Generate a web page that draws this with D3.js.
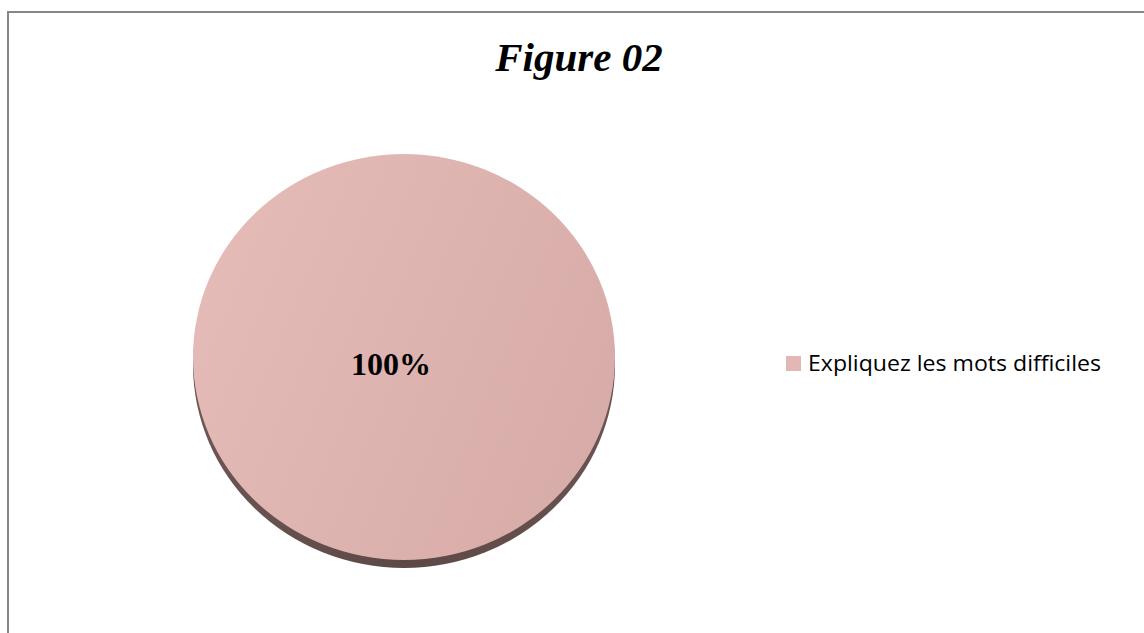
<!DOCTYPE html>
<html>
<head>
<meta charset="utf-8">
<script src="https://d3js.org/d3.v7.min.js"></script>
<style>
  html, body { margin: 0; padding: 0; background: #ffffff; }
  svg { display: block; }
</style>
</head>
<body>
<div id="chart"></div>
<script>
// ---- data ----
const title = "Figure 02";
const categories = ["Expliquez les mots difficiles"];
const values = [100];
const labels = ["100%"];

// ---- layout ----
const W = 1144, H = 633;
const cx = 404, cy = 357, rx = 211, ry = 203, depth = 8;

const svg = d3.select("#chart").append("svg")
  .attr("width", W).attr("height", H);

const defs = svg.append("defs");
const gFace = defs.append("linearGradient").attr("id", "faceGrad")
  .attr("x1", "0%").attr("y1", "30%").attr("x2", "100%").attr("y2", "70%");
gFace.append("stop").attr("offset", "0%").attr("stop-color", "#e5bbb8");
gFace.append("stop").attr("offset", "100%").attr("stop-color", "#d6aba8");

const gSide = defs.append("linearGradient").attr("id", "sideGrad")
  .attr("x1", "0%").attr("y1", "0%").attr("x2", "100%").attr("y2", "0%");
gSide.append("stop").attr("offset", "0%").attr("stop-color", "#6d5654");
gSide.append("stop").attr("offset", "50%").attr("stop-color", "#5c4846");
gSide.append("stop").attr("offset", "100%").attr("stop-color", "#6a5351");

// chart border (right and bottom edges extend beyond the view)
svg.append("rect")
  .attr("x", 8).attr("y", 12)
  .attr("width", W + 20).attr("height", H + 20)
  .attr("fill", "#ffffff")
  .attr("stroke", "#878787").attr("stroke-width", 2);

// title
svg.append("text")
  .attr("x", 579).attr("y", 71)
  .attr("text-anchor", "middle")
  .attr("font-family", "'Liberation Serif', 'Times New Roman', serif")
  .attr("font-weight", "bold").attr("font-style", "italic")
  .attr("font-size", 41)
  .attr("fill", "#000")
  .text(title);

// pie
const pie = d3.pie().sort(null).value(d => d);
const arcs = pie(values);
const arc = d3.arc().innerRadius(0).outerRadius(rx);

const sideG = svg.append("g")
  .attr("transform", `translate(${cx},${cy + depth}) scale(1,${ry / rx})`);
sideG.selectAll("path").data(arcs).join("path")
  .attr("d", arc).attr("fill", "url(#sideGrad)");

const faceG = svg.append("g")
  .attr("transform", `translate(${cx},${cy}) scale(1,${ry / rx})`);
faceG.selectAll("path").data(arcs).join("path")
  .attr("d", arc).attr("fill", "url(#faceGrad)");

// data label
svg.selectAll("text.lbl").data(arcs).join("text")
  .attr("class", "lbl")
  .attr("x", 391).attr("y", 375)
  .attr("text-anchor", "middle")
  .attr("font-family", "'Liberation Serif', 'Times New Roman', serif")
  .attr("font-weight", "bold")
  .attr("font-size", 32)
  .attr("fill", "#000")
  .text((d, i) => labels[i]);

// legend
const leg = svg.append("g").attr("transform", "translate(786,356)");
leg.selectAll("rect").data(categories).join("rect")
  .attr("x", 0).attr("y", (d, i) => i * 30)
  .attr("width", 15).attr("height", 15)
  .attr("fill", "#e2b7b4");
leg.selectAll("text").data(categories).join("text")
  .attr("x", 22).attr("y", (d, i) => i * 30 + 15)
  .attr("font-family", "'Open Sans', 'Noto Sans', sans-serif")
  .attr("font-size", 21)
  .attr("fill", "#000")
  .attr("textLength", 293).attr("lengthAdjust", "spacingAndGlyphs")
  .text(d => d);
</script>
</body>
</html>
